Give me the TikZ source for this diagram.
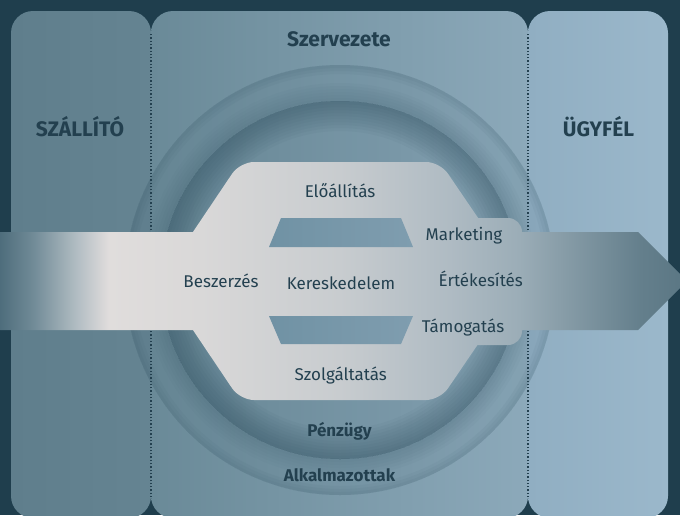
\documentclass[tikz,border=0pt]{standalone}
\usepackage{fontspec}
\setmainfont{Fira Sans}
\usepackage{xcolor}
\usepackage{tikz}
\definecolor{ink}{HTML}{23404F}
\definecolor{backdrop}{HTML}{1F3E4D}
\definecolor{suppleft}{HTML}{5F7E8C}
\definecolor{suppright}{HTML}{658492}
\definecolor{orgleft}{HTML}{6A8A98}
\definecolor{orgright}{HTML}{8CA9BA}
\definecolor{custleft}{HTML}{90AEC2}
\definecolor{custright}{HTML}{9BB8CB}
\definecolor{ringdark}{HTML}{2F4F5F}
\definecolor{slotleft}{HTML}{7092A4}
\definecolor{slotright}{HTML}{7F9DAF}
\definecolor{flowa}{HTML}{4E6D7C}
\definecolor{flowb}{HTML}{728C98}
\definecolor{flowc}{HTML}{B0BCC2}
\definecolor{flowd}{HTML}{E0DDDC}
\definecolor{flowe}{HTML}{D9D8D8}
\definecolor{flowf}{HTML}{C8CCCF}
\definecolor{flowg}{HTML}{AFBBC3}
\definecolor{flowh}{HTML}{9BADB7}
\definecolor{flowi}{HTML}{647F8C}
\definecolor{flowj}{HTML}{5A7683}
\pgfdeclarehorizontalshading{flowshade}{100bp}{color(0bp)=(flowa); color(25bp)=(flowa); color(27.5bp)=(flowb); color(30.5bp)=(flowc); color(32.9bp)=(flowd); color(39.6bp)=(flowe); color(49.7bp)=(flowf); color(57.7bp)=(flowg); color(62.8bp)=(flowh); color(71.6bp)=(flowi); color(75bp)=(flowj); color(100bp)=(flowj)}
\tikzset{
  every node/.style={text=ink,inner sep=0pt},
  lbl/.style={font=\fontsize{17}{20}\selectfont,anchor=base},
  ringlbl/.style={font=\fontsize{17}{20}\selectfont\bfseries,anchor=base},
  headlbl/.style={font=\fontsize{21}{24}\selectfont\bfseries,anchor=base},
  panel/.style={rounded corners=22pt},
  divider/.style={draw=ink,dotted,line width=1.3pt},
  slot/.style={left color=slotleft,right color=slotright},
  rim/.style={fill=ringdark,fill opacity=0.05,even odd rule},
  halo/.style={fill=ringdark,fill opacity=0.03,even odd rule}
}
\begin{document}
\begin{tikzpicture}[x=1pt,y=-1pt]
  \fill[backdrop,use as bounding box] (0,0) rectangle (680,515);
  \clip (0,0) rectangle (680,515);
  \shade[panel,left color=suppleft,right color=suppright] (11,11) rectangle (151,518);
  \shade[panel,left color=orgleft,right color=orgright] (151,11) rectangle (528,518);
  \shade[panel,left color=custleft,right color=custright] (528,11) rectangle (668,518);

  \coordinate (hub) at (340,280);
  \fill[ringdark,fill opacity=0.08] (hub) circle[radius=215];
  \foreach \d in {3,6,...,9}
    \fill[rim] (hub) circle[radius=215] circle[radius=215-\d];
  \foreach \d in {3,6,...,18}
    \fill[halo] (hub) circle[radius=179+\d] circle[radius=179];
  \foreach \d in {3,6,...,30}
    \fill[rim] (hub) circle[radius=179] circle[radius=179-\d];

  \coordinate (lt) at (151,34);
  \coordinate (lb) at (151,497);
  \coordinate (rt) at (528,34);
  \coordinate (rb) at (528,497);
  \draw[divider] (lt) -- (lb);
  \draw[divider] (rt) -- (rb);

  \shade[shading=flowshade,rounded corners=14pt]
    (240,162) -- (440,162) -- (521,281) -- (440,400) -- (240,400) -- (160,281) -- cycle
    (440,218) -- (522,218) -- (522,250) -- (440,250) -- cycle
    (440,312) -- (522,312) -- (522,345) -- (440,345) -- cycle
    [sharp corners] (0,232) -- (638,232) -- (687,281) -- (638,330) -- (0,330) -- cycle;
  \shade[slot] (281,218) -- (401,218) -- (413,247) -- (269,247) -- cycle;
  \shade[slot] (269,316) -- (413,316) -- (401,344) -- (281,344) -- cycle;

  \node[headlbl] (org) at (339,46.5) {Szervezete};
  \node[headlbl] (vendor) at (80,136) {SZÁLLÍTÓ};
  \node[headlbl] (client) at (598.5,136) {ÜGYFÉL};
  \node[lbl] (make) at (340,197.5) {Előállítás};
  \node[lbl] (mkt) at (464,240.5) {Marketing};
  \node[lbl] (buy) at (221,287.3) {Beszerzés};
  \node[lbl] (trade) at (341,289.3) {Kereskedelem};
  \node[lbl] (sell) at (480.7,286) {Értékesítés};
  \node[lbl] (help) at (463,332.7) {Támogatás};
  \node[lbl] (serv) at (340.8,380) {Szolgáltatás};
  \node[ringlbl] (fin) at (339.5,436.7) {Pénzügy};
  \node[ringlbl] (staff) at (339.5,481.7) {Alkalmazottak};
\end{tikzpicture}
\end{document}
